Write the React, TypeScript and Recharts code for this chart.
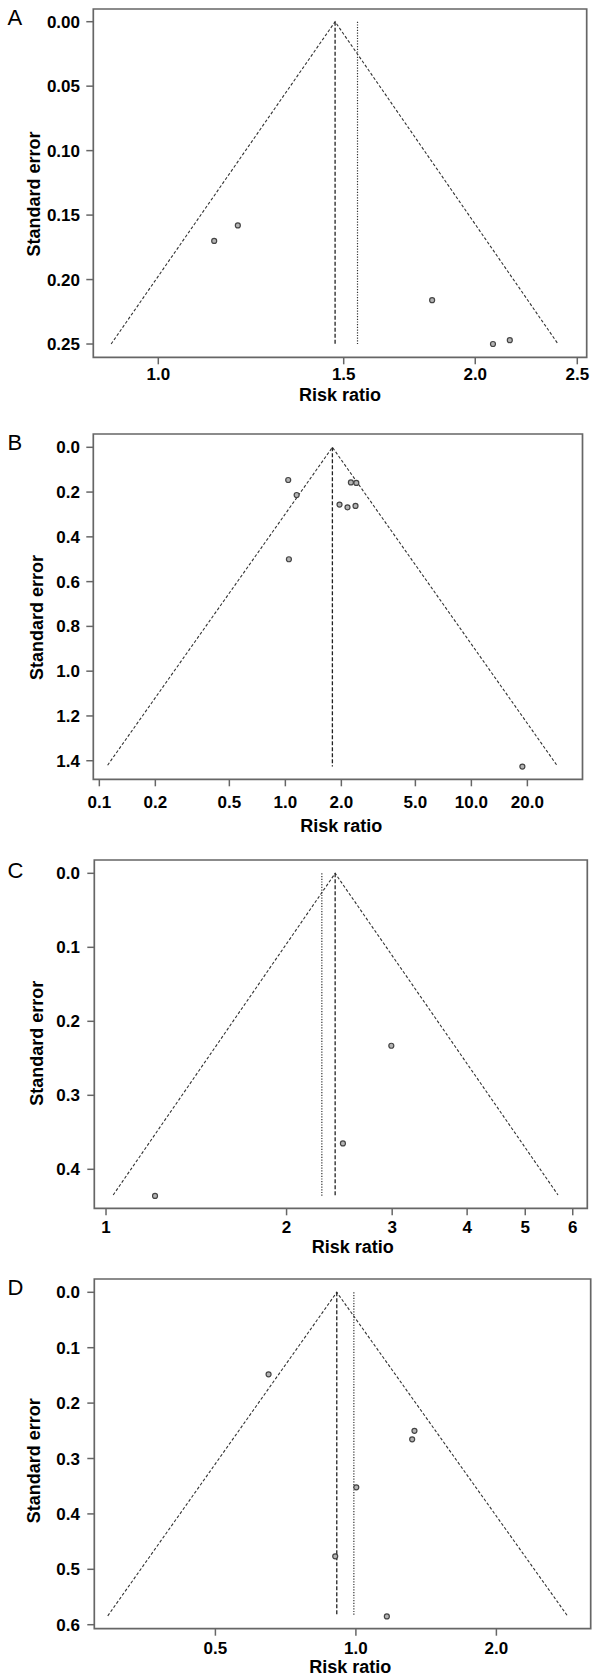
import React from 'react';
import { ScatterChart, Scatter, XAxis, YAxis, ReferenceArea } from 'recharts';

const FONT = '"Liberation Sans", Arial, Helvetica, sans-serif';

// ---------- Panel A ----------
const aStudyRR = [1.13, 1.19, 1.82, 2.079, 2.157];
const aStudySE = [0.17, 0.158, 0.216, 0.25, 0.247];
const aFunnelRR = [0.902, 1.472, 2.397];
const aFunnelSE = [0.25, 0, 0.25];
const aFixedRR = 1.472;
const aRandomRR = 1.546;
const aLineSE = [0, 0.25];
const aXTicks = [1.0, 1.5, 2.0, 2.5];
const aYTicks = [0, 0.05, 0.1, 0.15, 0.2, 0.25];
const aXDomain = [0.8675, 2.552];
const aYDomain = [-0.00985, 0.2603];

// ---------- Panel B ----------
const bStudyRR = [1.036, 1.15, 1.045, 2.251, 2.407, 1.955, 2.158, 2.383, 18.8];
const bStudySE = [0.146, 0.213, 0.5, 0.157, 0.159, 0.256, 0.268, 0.262, 1.426];
const bFunnelRR = [0.1108, 1.79, 28.8];
const bFunnelSE = [1.42, 0, 1.42];
const bFixedRR = 1.79;
const bLineSE = [0, 1.426];
const bXTicks = [0.1, 0.2, 0.5, 1.0, 2.0, 5.0, 10.0, 20.0];
const bYTicks = [0, 0.2, 0.4, 0.6, 0.8, 1.0, 1.2, 1.4];
const bXDomain = [0.0928, 39.57];
const bYDomain = [-0.0594, 1.483];

// ---------- Panel C ----------
const cStudyRR = [2.99, 2.483, 1.207];
const cStudySE = [0.233, 0.365, 0.436];
const cFunnelRR = [1.028, 2.41, 5.67];
const cFunnelSE = [0.4347, 0, 0.4347];
const cFixedRR = 2.41;
const cRandomRR = 2.29;
const cLineSE = [0, 0.436];
const cXTicks = [1, 2, 3, 4, 5, 6];
const cYTicks = [0, 0.1, 0.2, 0.3, 0.4];
const cXDomain = [0.956, 6.345];
const cYDomain = [-0.018, 0.4527];

// ---------- Panel D ----------
const dStudyRR = [0.65, 1.335, 1.32, 1.002, 0.903, 1.165];
const dStudySE = [0.148, 0.25, 0.2653, 0.352, 0.4765, 0.585];
const dFunnelRR = [0.294, 0.91, 2.84];
const dFunnelSE = [0.584, 0, 0.584];
const dFixedRR = 0.91;
const dRandomRR = 0.99;
const dLineSE = [0, 0.584];
const dXTicks = [0.5, 1.0, 2.0];
const dYTicks = [0, 0.1, 0.2, 0.3, 0.4, 0.5, 0.6];
const dXDomain = [0.2751, 3.185];
const dYDomain = [-0.024, 0.6072];

type Pt = { rr: number; se: number };
const zip = (rr: number[], se: number[]): Pt[] => rr.map((r, i) => ({ rr: r, se: se[i] }));
const vline = (rr: number, se: number[]): Pt[] => se.map((s) => ({ rr, se: s }));

const Empty = () => <g />;
const Dot = (p: any) => (
  <circle cx={p.cx} cy={p.cy} r={2.5} fill="#b4b4b4" stroke="#444" strokeWidth={1.2} />
);

const XTitle = (p: any) => (
  <text x={p.px} y={p.py} dy="0.36em" textAnchor="middle" fontFamily={FONT} fontWeight={700} fontSize={18} fill="#000">
    Risk ratio
  </text>
);
const YTitle = (p: any) => (
  <text
    x={p.px}
    y={p.py}
    dy="0.36em"
    transform={`rotate(-90 ${p.px} ${p.py})`}
    textAnchor="middle"
    fontFamily={FONT}
    fontWeight={700}
    fontSize={18}
    fill="#000"
  >
    Standard error
  </text>
);

type PanelProps = {
  letter: string;
  top: number;
  letterTop: number;
  studies: Pt[];
  funnel: Pt[];
  fixed: Pt[];
  random?: Pt[];
  xDomain: number[];
  yDomain: number[];
  xTicks: number[];
  yTicks: number[];
  xFmt: (v: number) => string;
  yFmt: (v: number) => string;
  plot: { left: number; right: number; top: number; bottom: number };
  xTickMargin: number;
  yTickMargin: number;
  xTitle: [number, number];
  yTitle: [number, number];
};

const tickStyle = { fill: '#000', fontSize: 17, fontWeight: 700, fontFamily: FONT };
const GRAY = '#666';

function Panel(p: PanelProps) {
  const H = 420;
  return (
    <div style={{ position: 'absolute', left: 0, top: p.top, width: 600, height: H }}>
      <div
        style={{
          position: 'absolute',
          left: 7.5,
          top: p.letterTop - 2.85,
          fontFamily: FONT,
          fontSize: 22,
          lineHeight: '22px',
          color: '#000',
        }}
      >
        {p.letter}
      </div>
      <ScatterChart
        width={600}
        height={H}
        margin={{ top: p.plot.top, right: 600 - p.plot.right, bottom: 0, left: 0 }}
      >
        <XAxis
          type="number"
          dataKey="rr"
          scale="log"
          domain={p.xDomain}
          allowDataOverflow
          ticks={p.xTicks}
          interval={0}
          tickFormatter={p.xFmt}
          height={H - p.plot.bottom}
          axisLine={false}
          tickLine={{ stroke: GRAY, strokeWidth: 1.5 }}
          tickSize={7}
          tickMargin={p.xTickMargin}
          tick={tickStyle}
          label={<XTitle px={p.xTitle[0]} py={p.xTitle[1]} />}
        />
        <YAxis
          type="number"
          dataKey="se"
          reversed
          domain={p.yDomain}
          allowDataOverflow
          ticks={p.yTicks}
          interval={0}
          tickFormatter={p.yFmt}
          width={p.plot.left}
          axisLine={false}
          tickLine={{ stroke: GRAY, strokeWidth: 1.5 }}
          tickSize={7}
          tickMargin={p.yTickMargin}
          tick={tickStyle}
          label={<YTitle px={p.yTitle[0]} py={p.yTitle[1]} />}
        />
        <ReferenceArea
          x1={p.xDomain[0]}
          x2={p.xDomain[1]}
          y1={p.yDomain[0]}
          y2={p.yDomain[1]}
          ifOverflow="visible"
          fill="none"
          stroke={GRAY}
          strokeWidth={1.7}
        />
        <Scatter
          data={p.funnel}
          shape={Empty}
          line={{ stroke: '#333', strokeWidth: 1.1, strokeDasharray: '3 2' }}
          isAnimationActive={false}
        />
        <Scatter
          data={p.fixed}
          shape={Empty}
          line={{ stroke: '#222', strokeWidth: 1.3, strokeDasharray: '4 2' }}
          isAnimationActive={false}
        />
        {p.random && (
          <Scatter
            data={p.random}
            shape={Empty}
            line={{ stroke: '#333', strokeWidth: 1.2, strokeDasharray: '1.2 1.5' }}
            isAnimationActive={false}
          />
        )}
        <Scatter data={p.studies} shape={Dot} isAnimationActive={false} />
      </ScatterChart>
    </div>
  );
}

const f1 = (v: number) => v.toFixed(1);
const f2 = (v: number) => v.toFixed(2);
const f0 = (v: number) => String(Math.round(v));

export default function App() {
  return (
    <div style={{ position: 'absolute', left: 0, top: 0, width: 600, height: 1680, background: '#fff' }}>
      <Panel
        letter="A"
        top={0}
        letterTop={10}
        studies={zip(aStudyRR, aStudySE)}
        funnel={zip(aFunnelRR, aFunnelSE)}
        fixed={vline(aFixedRR, aLineSE)}
        random={vline(aRandomRR, aLineSE)}
        xDomain={aXDomain}
        yDomain={aYDomain}
        xTicks={aXTicks}
        yTicks={aYTicks}
        xFmt={f1}
        yFmt={f2}
        plot={{ left: 93.3, right: 586.7, top: 9, bottom: 357.3 }}
        xTickMargin={4.1}
        yTickMargin={6.3}
        xTitle={[340, 394.5]}
        yTitle={[33.7, 194]}
      />
      <Panel
        letter="B"
        top={420}
        letterTop={14.5}
        studies={zip(bStudyRR, bStudySE)}
        funnel={zip(bFunnelRR, bFunnelSE)}
        fixed={vline(bFixedRR, bLineSE)}
        xDomain={bXDomain}
        yDomain={bYDomain}
        xTicks={bXTicks}
        yTicks={bYTicks}
        xFmt={f1}
        yFmt={f1}
        plot={{ left: 93.3, right: 582.5, top: 14, bottom: 359.3 }}
        xTickMargin={10.1}
        yTickMargin={6.3}
        xTitle={[341.2, 405.8]}
        yTitle={[37, 197.5]}
      />
      <Panel
        letter="C"
        top={840}
        letterTop={23.3}
        studies={zip(cStudyRR, cStudySE)}
        funnel={zip(cFunnelRR, cFunnelSE)}
        fixed={vline(cFixedRR, cLineSE)}
        random={vline(cRandomRR, cLineSE)}
        xDomain={cXDomain}
        yDomain={cYDomain}
        xTicks={cXTicks}
        yTicks={cYTicks}
        xFmt={f0}
        yFmt={f1}
        plot={{ left: 94.3, right: 587.3, top: 20, bottom: 368.3 }}
        xTickMargin={5.6}
        yTickMargin={7.3}
        xTitle={[352.7, 406.5]}
        yTitle={[36.4, 203.3]}
      />
      <Panel
        letter="D"
        top={1260}
        letterTop={20}
        studies={zip(dStudyRR, dStudySE)}
        funnel={zip(dFunnelRR, dFunnelSE)}
        fixed={vline(dFixedRR, dLineSE)}
        random={vline(dRandomRR, dLineSE)}
        xDomain={dXDomain}
        yDomain={dYDomain}
        xTicks={dXTicks}
        yTicks={dYTicks}
        xFmt={f1}
        yFmt={f1}
        plot={{ left: 94.3, right: 590.7, top: 19, bottom: 368.7 }}
        xTickMargin={6.5}
        yTickMargin={7.3}
        xTitle={[350.2, 407]}
        yTitle={[34, 200.8]}
      />
    </div>
  );
}
